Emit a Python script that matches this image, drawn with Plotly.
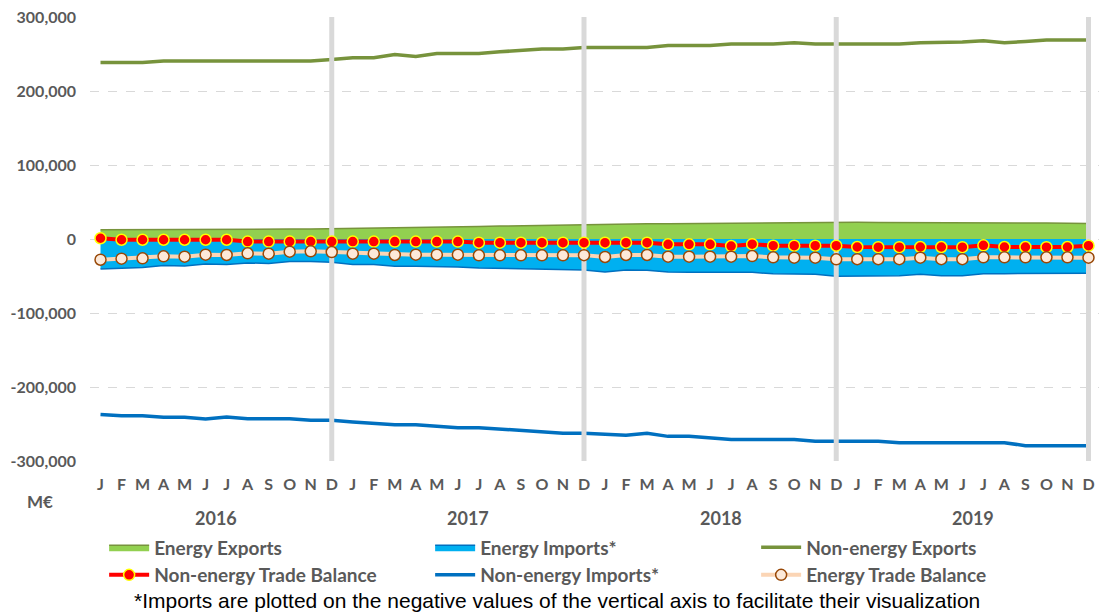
import plotly.graph_objects as go

# ---------------- data (M€) ----------------
months = ["J", "F", "M", "A", "M", "J", "J", "A", "S", "O", "N", "D"]
years = ["2016", "2017", "2018", "2019"]

energy_exports = [12500, 12500, 12500, 12500, 12500, 12600, 12800, 13000, 13200, 13400, 13600, 13900,
                  14500, 14800, 15200, 15600, 16000, 16500, 17000, 17500, 18000, 18500, 19200, 20000,
                  20200, 20300, 20500, 20700, 21000, 21300, 21600, 22000, 22300, 22500, 22600, 22700,
                  22500, 22300, 22300, 22400, 22500, 22500, 22300, 22000, 21800, 21500, 21200, 21000]

energy_imports = [-40500, -39100, -38600, -35900, -36400, -33800, -34400, -32400, -33000, -30500, -30300, -31500,
                  -34300, -34600, -36800, -36800, -37200, -37700, -39100, -39600, -40100, -40600, -41300, -41800,
                  -44500, -41900, -42100, -44600, -44900, -45200, -45500, -45000, -47100, -47700, -47800, -50200,
                  -49700, -49500, -49500, -47600, -49700, -49700, -47100, -46800, -46600, -46300, -46000, -46200]

nonenergy_exports = [238600, 238600, 238600, 240400, 240400, 240400, 240400, 240400, 240400, 240400, 240400, 242700,
                     244900, 244900, 249400, 246700, 250800, 250800, 250800, 253000, 254800, 256700, 256700, 258900,
                     258900, 258900, 258900, 261600, 261600, 261600, 263400, 263400, 263400, 265200, 263400, 263400,
                     263400, 263400, 263400, 265200, 265200, 266100, 267900, 265200, 266900, 268800, 268800, 268800]

nonenergy_imports = [-237000, -238700, -238700, -241000, -241000, -243200, -240500, -242800, -242800, -242800, -245000, -245000,
                     -247200, -249100, -250900, -250900, -253200, -254900, -254900, -256700, -258600, -260300, -262600, -262600,
                     -263400, -265300, -262600, -266700, -266700, -268900, -271100, -271100, -271100, -271100, -273400, -273400,
                     -273400, -273400, -275200, -275200, -275200, -275200, -275200, -275200, -279300, -279300, -279300, -279300]

nonenergy_balance = [1000, -1000, -1000, -1000, -1000, -1000, -1000, -3500, -3500, -3500, -3500, -3500,
                     -3500, -3500, -3500, -3500, -3500, -3500, -5000, -5000, -5000, -5000, -5000, -5000,
                     -5000, -5000, -5000, -7200, -7200, -7200, -9500, -7000, -9000, -9000, -9000, -9000,
                     -10800, -11000, -11000, -10800, -10800, -11000, -8600, -10800, -10800, -11000, -10800, -9000]

energy_balance = [-28000, -26600, -26100, -23400, -23900, -21200, -21600, -19400, -19800, -17100, -16700, -17600,
                  -19800, -19800, -21600, -21200, -21200, -21200, -22100, -22100, -22100, -22100, -22100, -21800,
                  -24300, -21600, -21600, -23900, -23900, -23900, -23900, -23000, -24800, -25200, -25200, -27500,
                  -27200, -27200, -27200, -25200, -27200, -27200, -24800, -24800, -24800, -24800, -24800, -25200]

y_ticks = [300000, 200000, 100000, 0, -100000, -200000, -300000]
y_ticktext = ["300,000", "200,000", "100,000", "0", "-100,000", "-200,000", "-300,000"]

x = list(range(len(months) * len(years)))
x_labels = months * len(years)
year_ends = [11, 23, 35, 47]

GREY = "#595959"
FONT = "Lato"

fig = go.Figure()

#---------------- areas ----------------
fig.add_trace(go.Scatter(x=x, y=energy_exports, name="Energy Exports", mode="lines",
                         fill="tozeroy", fillcolor="#92d050",
                         line=dict(color="#77933c", width=1.5), legendrank=1))
fig.add_trace(go.Scatter(x=x, y=energy_imports, name="Energy Imports*", mode="lines",
                         fill="tozeroy", fillcolor="#00b0f0",
                         line=dict(color="#0070c0", width=1.5), legendrank=2))

#---------------- non-energy lines ----------------
fig.add_trace(go.Scatter(x=x, y=nonenergy_exports, name="Non-energy Exports", mode="lines",
                         line=dict(color="#77933c", width=3.5), legendrank=3))
fig.add_trace(go.Scatter(x=x, y=nonenergy_imports, name="Non-energy Imports*", mode="lines",
                         line=dict(color="#0070c0", width=3.5), legendrank=5))

#---------------- year separators ----------------
sep_x, sep_y = [], []
for i in year_ends:
    sep_x += [i, i, None]
    sep_y += [y_ticks[-1], y_ticks[0], None]
fig.add_trace(go.Scatter(x=sep_x, y=sep_y, mode="lines", showlegend=False, hoverinfo="skip",
                         line=dict(color="#d9d9d9", width=5)))

#---------------- balances ----------------
fig.add_trace(go.Scatter(x=x, y=nonenergy_balance, name="Non-energy Trade Balance", mode="lines+markers",
                         line=dict(color="#ff0000", width=4),
                         marker=dict(size=11, color="#ff0000", line=dict(color="#ffff00", width=1.5)),
                         legendrank=4))
fig.add_trace(go.Scatter(x=x, y=energy_balance, name="Energy Trade Balance", mode="lines+markers",
                         line=dict(color="#fbd5b5", width=4),
                         marker=dict(size=11, color="#fde9d9", line=dict(color="#984807", width=1.5)),
                         legendrank=6))

fig.update_xaxes(range=[-0.5, 47.5], tickmode="array", tickvals=x, ticktext=x_labels,
                 showgrid=False, zeroline=False, showline=False, ticks="",
                 ticklabelstandoff=12,
                 tickfont=dict(family=FONT, size=16, color=GREY, weight="bold"))
fig.update_yaxes(range=[-300000, 300000], tickmode="array", tickvals=y_ticks, ticktext=y_ticktext,
                 showgrid=True, gridcolor="#d9d9d9", griddash="dash", gridwidth=1,
                 zeroline=False, showline=False, ticks="", ticklabelstandoff=13,
                 ticklabeloverflow="allow",
                 tickfont=dict(family=FONT, size=16, color=GREY, weight="bold"))

annotations = []
for k, yr in enumerate(years):
    annotations.append(dict(x=k * 12 + 5.5, y=-0.128, xref="x", yref="paper", yanchor="middle", text=yr,
                            showarrow=False, font=dict(family=FONT, size=18, color=GREY, weight="bold")))
annotations.append(dict(x=-0.05, y=-0.092, xref="paper", yref="paper", xanchor="center", yanchor="middle",
                        text="M€", showarrow=False, font=dict(family=FONT, size=17, color=GREY, weight="bold")))
annotations.append(dict(x=0.463, y=-0.315, xref="paper", yref="paper", yanchor="middle",
                        text="*Imports are plotted on the negative values of the vertical axis to facilitate their visualization",
                        showarrow=False, font=dict(family="Liberation Sans", size=21, color="#000000")))

# page body adds an 8px offset, so the figure is drawn slightly smaller
fig.update_layout(
    width=1105, height=605,
    margin=dict(l=82, r=14, t=9, b=152, autoexpand=False),
    plot_bgcolor="white", paper_bgcolor="white",
    annotations=annotations,
    legend=dict(orientation="h", xref="container", x=0.087, xanchor="left",
                yref="container", y=0.14, yanchor="top",
                entrywidth=271, tracegroupgap=0, itemwidth=40,
                font=dict(family=FONT, size=19, color=GREY, weight="bold"),
                bgcolor="rgba(0,0,0,0)"),
)

fig.write_html("out.html")
